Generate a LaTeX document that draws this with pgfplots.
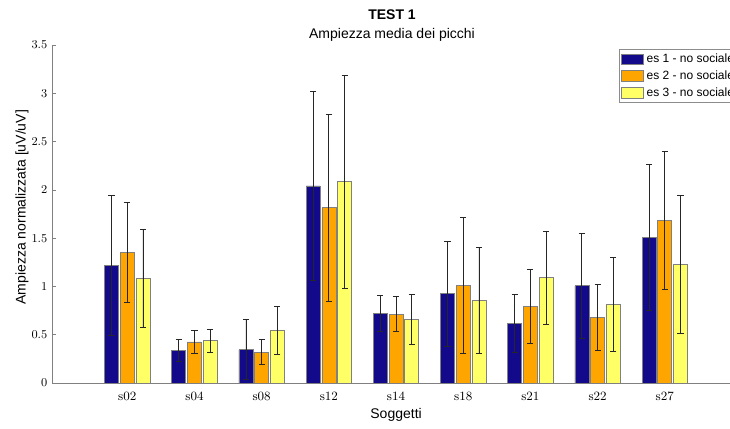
\documentclass[border=0pt]{standalone}
\usepackage{pgfplots}
\pgfplotsset{compat=1.18}
\usepackage{pgfplotstable}
\usepackage{fontspec}
\setmainfont{Liberation Sans}
\newfontfamily\lmr{Latin Modern Roman}
\definecolor{cblue}{RGB}{18,10,138}
\definecolor{corange}{RGB}{255,165,0}
\definecolor{cyellow}{RGB}{255,255,102}
\definecolor{edge}{RGB}{128,128,128}

% x: group index, y: mean, e: error
\pgfplotstableread{
x y e
1 1.220 0.725
2 0.335 0.112
3 0.345 0.310
4 2.040 0.975
5 0.720 0.187
6 0.925 0.545
7 0.618 0.300
8 1.008 0.543
9 1.505 0.756
}\esuno
\pgfplotstableread{
x y e
1 1.350 0.520
2 0.425 0.120
3 0.320 0.128
4 1.815 0.966
5 0.714 0.178
6 1.012 0.705
7 0.790 0.383
8 0.680 0.345
9 1.685 0.715
}\esdue
\pgfplotstableread{
x y e
1 1.085 0.510
2 0.440 0.120
3 0.546 0.245
4 2.085 1.104
5 0.660 0.256
6 0.856 0.545
7 1.090 0.485
8 0.815 0.487
9 1.232 0.715
}\estre

\begin{document}
\begin{tikzpicture}
\useasboundingbox (0,0) rectangle (547.5pt,321pt);
\clip (0,0) rectangle (547.5pt,321pt);
\begin{axis}[
  at={(39pt,33.75pt)}, anchor=south west,
  scale only axis, width=510pt, height=253.5pt,
  xmin=-0.12, xmax=10, ymin=0, ymax=3.5,
  axis lines*=left,
  axis line style={black!50, line width=0.5pt},
  ybar, bar width=10.5pt,
  legend image code/.code={\draw[#1, draw=edge, line width=0.4pt] (0pt,-4pt) rectangle (17pt,4pt);},
  xtick={1,...,9},
  xticklabels={s02,s04,s08,s12,s14,s18,s21,s22,s27},
  ytick={0,0.5,...,3.5},
  tick align=inside,
  major tick length=3pt,
  tick style={black!50, line width=0.5pt},
  xtick style={draw=none},
  ticklabel style={font=\fontsize{9.5}{11}\selectfont},
  xticklabel style={font=\lmr\fontsize{9.5}{11}\selectfont, yshift=-3pt},
  xlabel={Soggetti},
  ylabel={Ampiezza normalizzata [uV/uV]},
  label style={font=\fontsize{10.5}{12}\selectfont},
  xlabel style={at={(axis description cs:0.506,-0.0947)}, anchor=center},
  ylabel style={at={(axis description cs:-0.044,0.52)}, anchor=center},
  title={\textbf{TEST 1}\\Ampiezza media dei picchi},
  title style={at={(axis description cs:0.5,1)}, anchor=south, inner sep=0pt, yshift=-3.2pt, align=center, font=\fontsize{10.5}{14.2}\selectfont},
  legend style={at={(0.834,0.988)}, anchor=north west, draw=black!45, fill=white,
    font=\fontsize{9}{11}\selectfont, inner xsep=1pt, inner ysep=1.5pt, row sep=0.5pt},
  legend cell align=left,
  every axis plot/.append style={draw=edge, line width=0.5pt,
    error bars/y dir=both, error bars/y explicit,
    error bars/error bar style={black!85, line width=0.6pt},
    error bars/error mark options={rotate=90, mark size=2.3pt, line width=0.6pt, black!85}},
]
\addplot[fill=cblue, bar shift=-11.8pt] table[x=x, y=y, y error=e] {\esuno};
\addplot[fill=corange, bar shift=0pt] table[x=x, y=y, y error=e] {\esdue};
\addplot[fill=cyellow, bar shift=11.8pt] table[x=x, y=y, y error=e] {\estre};
\legend{es 1 - no sociale, es 2 - no sociale, es 3 - no sociale}
\end{axis}
\end{tikzpicture}
\end{document}
